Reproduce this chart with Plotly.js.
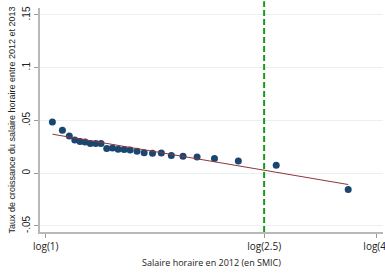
<!DOCTYPE html>
<html><head><meta charset="utf-8">
<script src="https://cdn.plot.ly/plotly-3.0.1.min.js"></script>
<style>html,body{margin:0;padding:0;background:#fff}#c{width:385px;height:273px}</style>
</head><body><div id="c"></div>
<script>
// log(hourly wage in SMIC), binned
const logWage = [0.028,0.070,0.099,0.122,0.144,0.165,0.187,0.210,0.232,0.256,0.280,0.304,0.329,0.354,0.383,0.413,0.448,0.485,0.527,0.576,0.635,0.708,0.808,0.967,1.269];
const growth  = [0.0486,0.0408,0.0354,0.0316,0.0301,0.0297,0.0282,0.0282,0.0282,0.0235,0.0240,0.0227,0.0224,0.0220,0.0208,0.0195,0.0190,0.0192,0.0167,0.0161,0.0154,0.0139,0.0117,0.0076,-0.0155];
const fitX = [0.028, 1.269];
const fitY = [0.0370, -0.0107];
const thresholdSMIC = 2.5;
const xTickVals = [0, Math.log(2.5), Math.log(4)];
const xTickText = ["log(1)", "log(2.5)", "log(4)"];
const yTickVals = [-0.05, 0, 0.05, 0.1, 0.15];
const yTickText = ["-.05", "0", ".05", ".1", ".15"];

const traces = [
  {x: logWage, y: growth, type: 'scatter', mode: 'markers',
   marker: {color: '#1a476f', size: 7}, hoverinfo: 'skip', cliponaxis: false},
  {x: fitX, y: fitY, type: 'scatter', mode: 'lines',
   line: {color: '#90353b', width: 1}, hoverinfo: 'skip'}
];
const layout = {
  width: 385, height: 273,
  margin: {l: 40, r: 2, t: 8, b: 41},
  paper_bgcolor: '#fff', plot_bgcolor: '#fff',
  showlegend: false,
  font: {family: 'Liberation Sans, Arial, sans-serif', color: '#222', size: 10},
  xaxis: {
    range: [-0.024, 1.415], tickvals: xTickVals, ticktext: xTickText,
    showgrid: false, zeroline: false, showline: true, linecolor: '#b8b8b8', linewidth: 2,
    ticks: 'outside', ticklen: 4, tickcolor: '#999', automargin: false,
    ticklabeloverflow: 'allow',
    tickfont: {family: 'Open Sans, DejaVu Sans, sans-serif', size: 10, color: '#222'},
    title: {text: 'Salaire horaire en 2012 (en SMIC)', standoff: 8,
      font: {family: 'Open Sans, DejaVu Sans, sans-serif', size: 9, color: '#222'}}
  },
  yaxis: {
    range: [-0.0557, 0.1566], tickvals: yTickVals, ticktext: yTickText, tickangle: -90,
    showgrid: true, gridcolor: '#e8f0f1', gridwidth: 1, zeroline: false,
    showline: true, linecolor: '#b8b8b8', linewidth: 2,
    ticks: 'outside', ticklen: 4, tickcolor: '#999', automargin: false,
    ticklabeloverflow: 'allow',
    tickfont: {family: 'Liberation Sans, Arial, sans-serif', size: 10, color: '#222'},
    title: {text: 'Taux de croissance du salaire horaire entre 2012 et 2013', standoff: 4,
      font: {family: 'Liberation Sans, Arial, sans-serif', size: 9, color: '#222'}}
  },
  shapes: [{type: 'line', xref: 'x', yref: 'paper',
    x0: Math.log(thresholdSMIC), x1: Math.log(thresholdSMIC), y0: 0, y1: 1.03,
    line: {color: '#1a9a1a', width: 2, dash: '6px,3px'}}]
};
Plotly.newPlot('c', traces, layout, {staticPlot: true, displayModeBar: false});
</script></body></html>
